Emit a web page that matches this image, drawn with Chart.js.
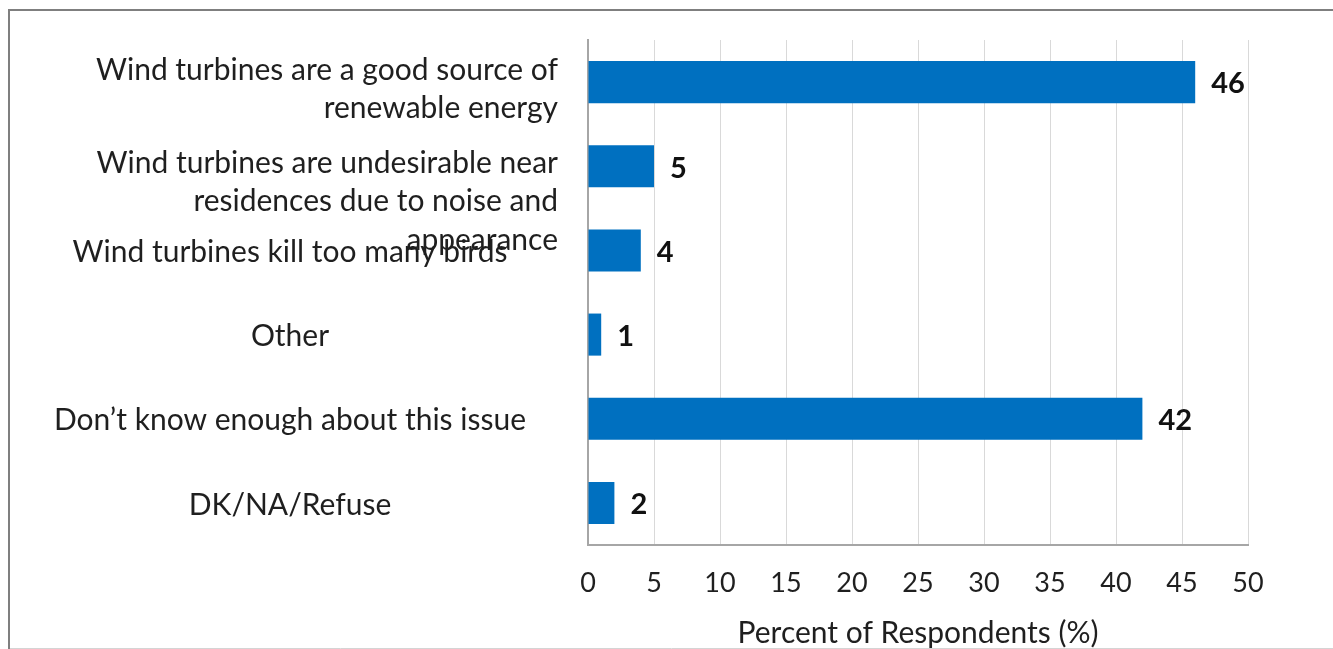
<!DOCTYPE html>
<html>
<head>
<meta charset="utf-8">
<script src="https://cdn.jsdelivr.net/npm/chart.js@4.4.1/dist/chart.umd.min.js"></script>
<style>
  html, body { margin: 0; padding: 0; background: #ffffff; }
  canvas { display: block; }
</style>
</head>
<body>
<canvas id="chart" width="1333" height="649"></canvas>
<script>
// Survey responses: opinions about wind turbines
const categories = [
  ['Wind turbines are a good source of', 'renewable energy'],
  ['Wind turbines are undesirable near', 'residences due to noise and', 'appearance'],
  ['Wind turbines kill too many birds'],
  ['Other'],
  ['Don\u2019t know enough about this issue'],
  ['DK/NA/Refuse']
];
const percents = [46, 5, 4, 1, 42, 2];
const xTicks = [0, 5, 10, 15, 20, 25, 30, 35, 40, 45, 50];
const xTitle = 'Percent of Respondents (%)';

const FONT = 'Lato, "Open Sans", sans-serif';
const TEXT = '#1f1f1f';

// Outer frame around the chart object
const framePlugin = {
  id: 'frame',
  beforeDraw(chart) {
    const ctx = chart.ctx;
    ctx.save();
    ctx.fillStyle = '#ffffff';
    ctx.fillRect(0, 0, chart.width, chart.height);
    ctx.strokeStyle = '#7f7f7f';
    ctx.lineWidth = 2;
    ctx.beginPath();
    ctx.moveTo(9, chart.height);
    ctx.lineTo(9, 10);
    ctx.lineTo(chart.width, 10);
    ctx.stroke();
    ctx.strokeStyle = '#d4d4d4';
    ctx.lineWidth = 1;
    ctx.beginPath();
    ctx.moveTo(10, chart.height - 0.5);
    ctx.lineTo(chart.width, chart.height - 0.5);
    ctx.stroke();
    ctx.restore();
  }
};

// Category labels: wrapped labels are right-aligned against the axis,
// single-line labels are centred in the label column.
const categoryLabelPlugin = {
  id: 'categoryLabels',
  afterDraw(chart) {
    const ctx = chart.ctx;
    const y = chart.scales.y;
    const area = chart.chartArea;
    const colRight = area.left - 30;
    const colLeft = 22;
    const lineH = 38.5;
    const firstLineShift = { 2: -12, 3: -3 };
    ctx.save();
    ctx.font = '30px ' + FONT;
    ctx.fillStyle = TEXT;
    ctx.textBaseline = 'middle';
    categories.forEach((lines, i) => {
      const yc = y.getPixelForValue(i);
      if (lines.length === 1) {
        ctx.textAlign = 'center';
        ctx.fillText(lines[0], (colLeft + colRight) / 2, yc + 2);
      } else {
        ctx.textAlign = 'right';
        const y0 = yc + firstLineShift[lines.length];
        lines.forEach((line, k) => ctx.fillText(line, colRight, y0 + k * lineH));
      }
    });
    ctx.restore();
  }
};

// Value labels at the end of each bar
const valueLabelPlugin = {
  id: 'valueLabels',
  afterDatasetsDraw(chart) {
    const ctx = chart.ctx;
    const meta = chart.getDatasetMeta(0);
    ctx.save();
    ctx.font = 'bold 29px ' + FONT;
    ctx.fillStyle = '#111111';
    ctx.textAlign = 'left';
    ctx.textBaseline = 'middle';
    meta.data.forEach((bar, i) => {
      ctx.fillText(String(percents[i]), bar.x + 16, bar.y + 2);
    });
    ctx.restore();
  }
};

new Chart(document.getElementById('chart'), {
  type: 'bar',
  data: {
    labels: categories,
    datasets: [{
      data: percents,
      backgroundColor: '#0070C0',
      borderWidth: 0,
      barPercentage: 0.5,
      categoryPercentage: 1.0
    }]
  },
  options: {
    indexAxis: 'y',
    responsive: false,
    devicePixelRatio: 1,
    animation: false,
    layout: { padding: { top: 40, right: 85, bottom: 0, left: 0 } },
    plugins: {
      legend: { display: false },
      tooltip: { enabled: false },
      title: { display: false }
    },
    scales: {
      x: {
        type: 'linear',
        min: 0,
        max: 50,
        afterBuildTicks(scale) { scale.ticks = xTicks.map(v => ({ value: v })); },
        afterFit(scale) { scale.height = 104; },
        grid: { color: '#d9d9d9', lineWidth: 1, drawTicks: false },
        border: { display: true, color: '#a6a6a6', width: 2 },
        ticks: {
          padding: 22,
          color: TEXT,
          font: { family: FONT, size: 27 }
        },
        title: {
          display: true,
          text: xTitle,
          color: TEXT,
          font: { family: FONT, size: 30 },
          padding: { top: 0, bottom: -2 }
        }
      },
      y: {
        afterFit(scale) { scale.width = 588; },
        grid: { display: false },
        border: { display: true, color: '#a6a6a6', width: 2 },
        ticks: { display: false }
      }
    }
  },
  plugins: [framePlugin, categoryLabelPlugin, valueLabelPlugin]
});
</script>
</body>
</html>
